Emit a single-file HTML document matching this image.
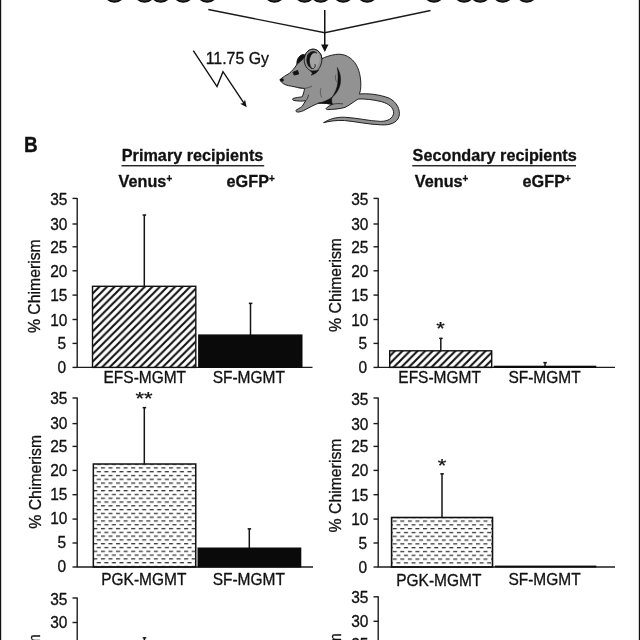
<!DOCTYPE html>
<html><head><meta charset="utf-8"><title>Figure B</title>
<style>
html,body{margin:0;padding:0;background:#fff;}
body{width:640px;height:640px;overflow:hidden;}
svg{display:block;}
text{font-family:"Liberation Sans",sans-serif;fill:#111;stroke:#111;stroke-width:0.3px;stroke-linejoin:round;}
.b{stroke-width:0.3px;}
.r{font-size:15.5px;}
.b{font-size:16.4px;font-weight:bold;}
.ax{stroke:#1c1c1c;stroke-width:1.4;fill:none;}
</style></head><body>
<svg width="640" height="640" viewBox="0 0 640 640">
<defs>
<pattern id="hatch" patternUnits="userSpaceOnUse" width="7.56" height="7.56" x="0.64" y="0">
<path d="M-3.78 3.78 L3.78 -3.78 M0 7.56 L7.56 0 M3.78 11.34 L11.34 3.78" stroke="#111" stroke-width="2.1" fill="none"/>
</pattern>
<pattern id="hatch2" patternUnits="userSpaceOnUse" width="7.56" height="7.56" x="4.96" y="0">
<path d="M-3.78 3.78 L3.78 -3.78 M0 7.56 L7.56 0 M3.78 11.34 L11.34 3.78" stroke="#111" stroke-width="2.1" fill="none"/>
</pattern>
<pattern id="dash" patternUnits="userSpaceOnUse" width="7.56" height="7.58" x="93.38" y="467.27">
<rect x="0" y="0" width="4.06" height="1.3" fill="#383838"/>
<rect x="3.37" y="3.79" width="4.06" height="1.3" fill="#383838"/>
</pattern>
<pattern id="dash2" patternUnits="userSpaceOnUse" width="7.56" height="7.6" x="392.74" y="520.44">
<rect x="0" y="0" width="4.06" height="1.3" fill="#383838"/>
<rect x="3.66" y="3.8" width="3.9" height="1.3" fill="#383838"/>
<rect x="0" y="3.8" width="0.16" height="1.3" fill="#383838"/>
</pattern>
<radialGradient id="cell" cx="0.5" cy="0.5" r="0.5">
<stop offset="0" stop-color="#888"/><stop offset="0.72" stop-color="#555"/><stop offset="0.86" stop-color="#141414"/><stop offset="1" stop-color="#050505"/>
</radialGradient>
</defs>
<rect width="640" height="640" fill="#fff"/>

<rect x="0" y="0" width="1.2" height="640" fill="#111"/>
<rect x="638.8" y="0" width="1.2" height="640" fill="#111"/>
<circle cx="114.50" cy="-8.2" r="11" fill="url(#cell)"/>
<circle cx="144.60" cy="-8.2" r="11" fill="url(#cell)"/>
<circle cx="160.75" cy="-8.2" r="11" fill="url(#cell)"/>
<circle cx="183.25" cy="-8.2" r="11" fill="url(#cell)"/>
<circle cx="207.25" cy="-8.2" r="11" fill="url(#cell)"/>
<circle cx="274.50" cy="-8.2" r="11" fill="url(#cell)"/>
<circle cx="304.60" cy="-8.2" r="11" fill="url(#cell)"/>
<circle cx="320.75" cy="-8.2" r="11" fill="url(#cell)"/>
<circle cx="343.25" cy="-8.2" r="11" fill="url(#cell)"/>
<circle cx="367.25" cy="-8.2" r="11" fill="url(#cell)"/>
<circle cx="434.00" cy="-8.2" r="11" fill="url(#cell)"/>
<circle cx="464.10" cy="-8.2" r="11" fill="url(#cell)"/>
<circle cx="480.25" cy="-8.2" r="11" fill="url(#cell)"/>
<circle cx="502.75" cy="-8.2" r="11" fill="url(#cell)"/>
<circle cx="526.75" cy="-8.2" r="11" fill="url(#cell)"/>
<path d="M208.3 9.5 L324.75 32.75 L430.5 10.5" stroke="#1a1a1a" stroke-width="1.4" fill="none"/>
<path d="M324.75 10 V46" stroke="#111" stroke-width="1.5" fill="none"/>
<path d="M321.1 44.4 L328.5 44.4 L324.8 52 Z" fill="#111"/>
<path d="M193.3 50.6 L217 86.6 L223 71.7 L245.6 105.7" stroke="#111" stroke-width="1.4" fill="none" stroke-linejoin="miter"/>
<path d="M246.7 107.3 L240.2 103.7 L243.5 102.9 L245.0 99.4 Z" fill="#111"/>
<text class="r" transform="translate(205.70 63.60) scale(1.000 1.050)" style="font-size:15.9px">11.75 Gy</text>
<g transform="translate(270,40) scale(0.21875)" stroke-linejoin="round" stroke-linecap="round">
<path d="M123 114 C121 96 126 82 137 73 C146 66 155 65 161 69 L166 114 Z" fill="#111" stroke="#111" stroke-width="4"/>
<path d="M46.9 180.4 C55 172 75 160 87.9 152.9 C100 142 112 130 124 110 C135 100 150 90 158 76 C165 54 180 42 197 42 C217 42 236 60 237 86 C250 78 275 70 300 66 C340 60 375 80 395 115 C412 145 418 190 414 225 C413 235 410 243 408 247 C440 243 500 248 545 266 C580 283 597 320 590 348 C582 380 545 390 510 388 C450 386 400 374 340 368 C300 366 270 372 245 378 C270 362 300 352 340 353 C400 356 450 370 505 372 C540 372 562 358 565 335 C566 310 545 292 510 282 C470 272 430 268 402 270 C380 285 360 300 343 308 C320 315 285 318 262 318 C255 317 255 313 258 311 C266 304 275 298 285 294 L258 290 C240 288 228 288 222 289 C200 297 185 306 153 323 C140 328 128 331 123 329 C117 326 117 322 120.4 320 C135 312 145 305 148 302 C153 293 158 285 163 278 C150 280 125 280 108 276 C102 273 102 269 105.4 267.5 C115 264 135 261 147 260 C152 250 156 235 158 222 C140 220 120 216 98 211 C80 209 62 203 53 193 C48 188 45 184 46.9 180.4 Z" fill="#929292" stroke="#111" stroke-width="4.2"/>
<!-- nose -->
<ellipse cx="55" cy="183" rx="8" ry="8" fill="#111"/>
<!-- eye -->
<path d="M106 147 L126 139 L131 155 L112 160 Z" fill="#111" stroke="#111" stroke-width="4"/>
<!-- near ear -->
<path d="M158 76 C152 100 160 128 186 141 C196 146 204 148 210 147 C228 130 238 108 237 86 C236 60 217 42 197 42 C180 42 165 54 158 76 Z" fill="#929292" stroke="#111" stroke-width="4.2"/>
<ellipse cx="203" cy="94" rx="23" ry="40" transform="rotate(14 203 94)" fill="#a4a4a4"/>
<path d="M172 70 C164 92 168 118 190 130 C180 112 176 90 186 72 C192 60 204 54 214 60 C204 48 182 50 172 70 Z" fill="#111" stroke="#111" stroke-width="3"/>
<path d="M190 130 C202 134 210 122 206 112" fill="none" stroke="#111" stroke-width="4"/>
<path d="M186 141 C192 150 200 156 188 160 C200 158 214 150 222 138" fill="#111" stroke="#111" stroke-width="3"/>
<!-- hind leg line -->
<path d="M308 128 C322 150 326 180 320 205 C314 230 298 252 282 264 C296 244 308 220 310 196 C312 172 312 150 308 128 Z" fill="#111" stroke="#111" stroke-width="2.5"/>
<!-- belly shadow -->
<path d="M222 289 C245 284 268 274 283 262 C280 274 282 286 285 294 L258 290 Z" fill="#111" stroke="#111" stroke-width="3"/>
<!-- fur lines -->
<path d="M232 222 C228 235 230 250 236 262" fill="none" stroke="#444" stroke-width="3"/>
<path d="M300 160 C296 172 300 186 306 192" fill="none" stroke="#444" stroke-width="3"/>
<path d="M128 218 C150 224 172 222 190 212" fill="none" stroke="#333" stroke-width="3"/>
<path d="M163 278 C170 270 174 262 176 252" fill="none" stroke="#222" stroke-width="3.5"/>
<path d="M285 294 C300 290 318 290 332 292" fill="none" stroke="#222" stroke-width="3.5"/>
</g>

<text class="b" transform="translate(23.95 152.00) scale(1.000 1.120)" style="font-size:19px">B</text>
<text class="b" transform="translate(121.80 160.80) scale(0.990 1.040)">Primary recipients</text>
<rect x="121.5" y="165.1" width="142.7" height="1.3" fill="#111"/>
<text class="b" transform="translate(118.60 186.80) scale(0.990 1.040)">Venus<tspan dy="-4.4" style="font-size:10px">+</tspan></text>
<text class="b" transform="translate(226.60 186.80) scale(0.990 1.040)">eGFP<tspan dy="-4.4" style="font-size:10px">+</tspan></text>
<text class="b" transform="translate(412.60 160.80) scale(0.990 1.040)">Secondary recipients</text>
<rect x="412.3" y="165.1" width="163.7" height="1.3" fill="#111"/>
<text class="b" transform="translate(414.80 186.80) scale(0.990 1.040)">Venus<tspan dy="-4.4" style="font-size:10px">+</tspan></text>
<text class="b" transform="translate(522.60 186.80) scale(0.990 1.040)">eGFP<tspan dy="-4.4" style="font-size:10px">+</tspan></text>
<path class="ax" d="M77.20 197.90 V367.40"/>
<path class="ax" d="M76.70 367.40 H312.50"/>
<path class="ax" d="M72.50 198.40 H77.20"/>
<text class="r" transform="translate(67.40 205.20) scale(1.000 1.050)" text-anchor="end">35</text>
<path class="ax" d="M72.50 224.00 H77.20"/>
<text class="r" transform="translate(67.40 230.00) scale(1.000 1.050)" text-anchor="end">30</text>
<path class="ax" d="M72.50 246.80 H77.20"/>
<text class="r" transform="translate(67.40 252.80) scale(1.000 1.050)" text-anchor="end">25</text>
<path class="ax" d="M72.50 270.80 H77.20"/>
<text class="r" transform="translate(67.40 276.80) scale(1.000 1.050)" text-anchor="end">20</text>
<path class="ax" d="M72.50 295.10 H77.20"/>
<text class="r" transform="translate(67.40 301.10) scale(1.000 1.050)" text-anchor="end">15</text>
<path class="ax" d="M72.50 319.50 H77.20"/>
<text class="r" transform="translate(67.40 325.50) scale(1.000 1.050)" text-anchor="end">10</text>
<path class="ax" d="M72.50 343.40 H77.20"/>
<text class="r" transform="translate(66.20 349.40) scale(1.000 1.050)" text-anchor="end">5</text>
<path class="ax" d="M72.50 367.40 H77.20"/>
<text class="r" transform="translate(66.20 373.40) scale(1.000 1.050)" text-anchor="end">0</text>
<text class="r" transform="translate(40.20 286.20) rotate(-90) scale(1.000 1.050)" text-anchor="middle" style="font-size:15.8px">% Chimerism</text>
<path d="M144.30 215.00 V286.00" stroke="#151515" stroke-width="1.5" fill="none"/>
<rect x="142.65" y="214.30" width="3.5" height="1.5" fill="#151515"/>
<rect x="92.5" y="286.3" width="103.3" height="81.10" fill="#fff"/>
<rect x="92.5" y="286.3" width="103.3" height="81.10" fill="url(#hatch)" stroke="#111" stroke-width="1.4"/>
<path d="M250.50 303.30 V335.00" stroke="#151515" stroke-width="1.5" fill="none"/>
<rect x="248.85" y="302.60" width="3.5" height="1.5" fill="#151515"/>
<rect x="198.1" y="334.4" width="104.4" height="33.50" fill="#0a0a0a"/>
<text class="r" transform="translate(144.80 382.90) scale(1.000 1.050)" text-anchor="middle">EFS-MGMT</text>
<text class="r" transform="translate(248.80 382.90) scale(1.000 1.050)" text-anchor="middle">SF-MGMT</text>
<path class="ax" d="M378.20 197.90 V367.40"/>
<path class="ax" d="M377.70 367.40 H615.00"/>
<path class="ax" d="M373.50 198.40 H378.20"/>
<text class="r" transform="translate(368.40 205.20) scale(1.000 1.050)" text-anchor="end">35</text>
<path class="ax" d="M373.50 224.00 H378.20"/>
<text class="r" transform="translate(368.40 230.00) scale(1.000 1.050)" text-anchor="end">30</text>
<path class="ax" d="M373.50 246.80 H378.20"/>
<text class="r" transform="translate(368.40 252.80) scale(1.000 1.050)" text-anchor="end">25</text>
<path class="ax" d="M373.50 270.80 H378.20"/>
<text class="r" transform="translate(368.40 276.80) scale(1.000 1.050)" text-anchor="end">20</text>
<path class="ax" d="M373.50 295.10 H378.20"/>
<text class="r" transform="translate(368.40 301.10) scale(1.000 1.050)" text-anchor="end">15</text>
<path class="ax" d="M373.50 319.50 H378.20"/>
<text class="r" transform="translate(368.40 325.50) scale(1.000 1.050)" text-anchor="end">10</text>
<path class="ax" d="M373.50 343.40 H378.20"/>
<text class="r" transform="translate(367.20 349.40) scale(1.000 1.050)" text-anchor="end">5</text>
<path class="ax" d="M373.50 367.40 H378.20"/>
<text class="r" transform="translate(367.20 373.40) scale(1.000 1.050)" text-anchor="end">0</text>
<text class="r" transform="translate(341.00 285.00) rotate(-90) scale(1.000 1.050)" text-anchor="middle" style="font-size:15.8px">% Chimerism</text>
<path d="M440.80 338.30 V351.00" stroke="#151515" stroke-width="1.5" fill="none"/>
<rect x="439.15" y="337.60" width="3.5" height="1.5" fill="#151515"/>
<rect x="389.7" y="350.8" width="102.0" height="16.60" fill="url(#hatch2)" stroke="#111" stroke-width="1.4"/>
<path d="M545.00 362.60 V366.00" stroke="#151515" stroke-width="1.5" fill="none"/>
<rect x="543.35" y="361.90" width="3.5" height="1.5" fill="#151515"/>
<rect x="493.7" y="365.70" width="102.6" height="2.2" fill="#0a0a0a"/>
<text class="r" transform="translate(439.60 382.90) scale(1.000 1.050)" text-anchor="middle">EFS-MGMT</text>
<text class="r" transform="translate(544.50 382.90) scale(1.000 1.050)" text-anchor="middle">SF-MGMT</text>
<text class="r" transform="translate(440.50 334.90) scale(1.000 0.800)" text-anchor="middle" style="font-size:22px">*</text>
<path class="ax" d="M77.20 397.50 V567.00"/>
<path class="ax" d="M76.70 567.00 H313.00"/>
<path class="ax" d="M72.50 398.00 H77.20"/>
<text class="r" transform="translate(67.40 404.00) scale(1.000 1.050)" text-anchor="end">35</text>
<path class="ax" d="M72.50 423.60 H77.20"/>
<text class="r" transform="translate(67.40 428.80) scale(1.000 1.050)" text-anchor="end">30</text>
<path class="ax" d="M72.50 446.40 H77.20"/>
<text class="r" transform="translate(67.40 451.60) scale(1.000 1.050)" text-anchor="end">25</text>
<path class="ax" d="M72.50 470.40 H77.20"/>
<text class="r" transform="translate(67.40 475.60) scale(1.000 1.050)" text-anchor="end">20</text>
<path class="ax" d="M72.50 494.70 H77.20"/>
<text class="r" transform="translate(67.40 499.90) scale(1.000 1.050)" text-anchor="end">15</text>
<path class="ax" d="M72.50 519.10 H77.20"/>
<text class="r" transform="translate(67.40 524.30) scale(1.000 1.050)" text-anchor="end">10</text>
<path class="ax" d="M72.50 543.00 H77.20"/>
<text class="r" transform="translate(66.20 548.20) scale(1.000 1.050)" text-anchor="end">5</text>
<path class="ax" d="M72.50 567.00 H77.20"/>
<text class="r" transform="translate(66.20 572.20) scale(1.000 1.050)" text-anchor="end">0</text>
<text class="r" transform="translate(40.90 481.80) rotate(-90) scale(1.000 1.050)" text-anchor="middle" style="font-size:15.8px">% Chimerism</text>
<path d="M144.30 407.60 V464.00" stroke="#151515" stroke-width="1.5" fill="none"/>
<rect x="142.65" y="406.90" width="3.5" height="1.5" fill="#151515"/>
<rect x="93.35" y="464" width="102.4" height="103.00" fill="url(#dash)" stroke="#111" stroke-width="1.5"/>
<path d="M249.30 528.80 V548.00" stroke="#151515" stroke-width="1.5" fill="none"/>
<rect x="247.65" y="528.10" width="3.5" height="1.5" fill="#151515"/>
<rect x="197.5" y="547.5" width="103.8" height="20.00" fill="#0a0a0a"/>
<text class="r" transform="translate(143.80 584.60) scale(1.000 1.050)" text-anchor="middle">PGK-MGMT</text>
<text class="r" transform="translate(248.80 584.50) scale(1.000 1.050)" text-anchor="middle">SF-MGMT</text>
<text class="r" transform="translate(144.00 405.40) scale(1.000 0.800)" text-anchor="middle" style="font-size:22px">**</text>
<path class="ax" d="M378.20 397.50 V567.00"/>
<path class="ax" d="M377.70 567.00 H615.00"/>
<path class="ax" d="M373.50 398.00 H378.20"/>
<text class="r" transform="translate(368.40 404.80) scale(1.000 1.050)" text-anchor="end">35</text>
<path class="ax" d="M373.50 423.60 H378.20"/>
<text class="r" transform="translate(368.40 429.60) scale(1.000 1.050)" text-anchor="end">30</text>
<path class="ax" d="M373.50 446.40 H378.20"/>
<text class="r" transform="translate(368.40 452.40) scale(1.000 1.050)" text-anchor="end">25</text>
<path class="ax" d="M373.50 470.40 H378.20"/>
<text class="r" transform="translate(368.40 476.40) scale(1.000 1.050)" text-anchor="end">20</text>
<path class="ax" d="M373.50 494.70 H378.20"/>
<text class="r" transform="translate(368.40 500.70) scale(1.000 1.050)" text-anchor="end">15</text>
<path class="ax" d="M373.50 519.10 H378.20"/>
<text class="r" transform="translate(368.40 525.10) scale(1.000 1.050)" text-anchor="end">10</text>
<path class="ax" d="M373.50 543.00 H378.20"/>
<text class="r" transform="translate(367.20 549.00) scale(1.000 1.050)" text-anchor="end">5</text>
<path class="ax" d="M373.50 567.00 H378.20"/>
<text class="r" transform="translate(367.20 573.00) scale(1.000 1.050)" text-anchor="end">0</text>
<text class="r" transform="translate(341.00 485.50) rotate(-90) scale(1.000 1.050)" text-anchor="middle" style="font-size:15.8px">% Chimerism</text>
<path d="M442.00 473.80 V518.00" stroke="#151515" stroke-width="1.5" fill="none"/>
<rect x="440.35" y="473.10" width="3.5" height="1.5" fill="#151515"/>
<rect x="391.6" y="517.5" width="100.9" height="49.50" fill="url(#dash2)" stroke="#111" stroke-width="1.6"/>
<rect x="495" y="565.60" width="101.3" height="1.9" fill="#0a0a0a"/>
<text class="r" transform="translate(438.80 585.60) scale(1.000 1.050)" text-anchor="middle">PGK-MGMT</text>
<text class="r" transform="translate(544.50 584.60) scale(1.000 1.050)" text-anchor="middle">SF-MGMT</text>
<text class="r" transform="translate(442.00 472.40) scale(1.000 0.800)" text-anchor="middle" style="font-size:22px">*</text>
<path class="ax" d="M77.20 597.50 V641.00"/>
<path class="ax" d="M72.50 598.00 H77.20"/>
<text class="r" transform="translate(67.40 604.50) scale(1.000 1.050)" text-anchor="end">35</text>
<path class="ax" d="M72.50 622.50 H77.20"/>
<text class="r" transform="translate(67.40 628.20) scale(1.000 1.050)" text-anchor="end">30</text>
<path class="ax" d="M72.50 647.50 H77.20"/>
<text class="r" transform="translate(67.40 653.20) scale(1.000 1.050)" text-anchor="end">25</text>
<text class="r" transform="translate(40.20 681.00) rotate(-90) scale(1.000 1.050)" text-anchor="middle" style="font-size:15.8px">% Chimerism</text>
<path d="M144.40 637.80 V660.00" stroke="#151515" stroke-width="1.5" fill="none"/>
<rect x="142.75" y="637.10" width="3.5" height="1.5" fill="#151515"/>
<path class="ax" d="M378.20 596.30 V641.00"/>
<path class="ax" d="M373.50 596.80 H378.20"/>
<text class="r" transform="translate(368.40 602.90) scale(1.000 1.050)" text-anchor="end">35</text>
<path class="ax" d="M373.50 621.30 H378.20"/>
<text class="r" transform="translate(368.40 626.60) scale(1.000 1.050)" text-anchor="end">30</text>
<path class="ax" d="M373.50 644.20 H378.20"/>
<text class="r" transform="translate(368.40 649.50) scale(1.000 1.050)" text-anchor="end">25</text>
<text class="r" transform="translate(341.00 680.00) rotate(-90) scale(1.000 1.050)" text-anchor="middle" style="font-size:15.8px">% Chimerism</text>
</svg></body></html>
